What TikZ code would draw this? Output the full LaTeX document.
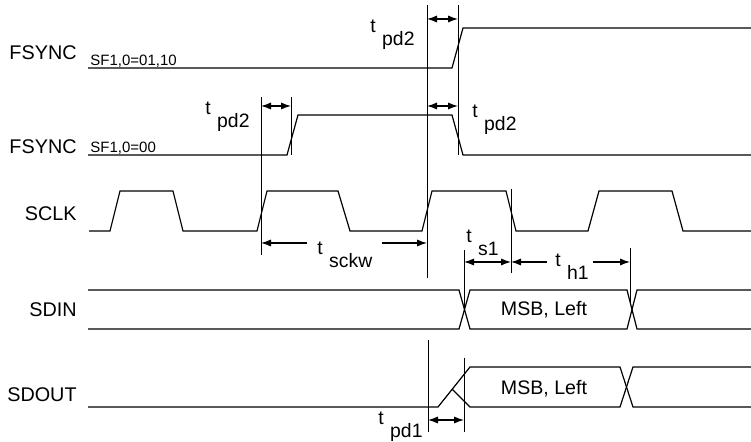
\documentclass[tikz,border=0pt]{standalone}
\usepackage{fontspec}
\setmainfont{Liberation Sans}
\usepackage{tikz}
\usetikzlibrary{arrows.meta}

\newcommand{\tlab}[1]{t\hspace{3.2pt}\raisebox{-6.5pt}{#1}}

\begin{document}
\begin{tikzpicture}[x=0.5pt,y=-0.5pt,>={Latex[length=5pt,width=3.6pt]}]
  \tikzset{
    wave/.style={line width=0.6pt},
    guide/.style={line width=0.5pt},
    dim/.style={<->,line width=0.6pt},
    signame/.style={anchor=east,inner sep=0pt,font=\fontsize{9.9}{11}\selectfont},
    cfg/.style={anchor=base west,inner sep=0pt,font=\fontsize{7.5}{9}\selectfont},
    tname/.style={anchor=base west,inner sep=0pt,font=\fontsize{9.7}{11}\selectfont},
    bus/.style={inner sep=0pt,font=\fontsize{9.8}{11}\selectfont}
  }
  \useasboundingbox (0,0) rectangle (751,442);
  % signal names
  \node[signame] (fs1) at (77,53) {FSYNC};
  \node[cfg] (sf1) at (90,66) {SF1,0=01,10};
  \node[signame] (fs2) at (77,147) {FSYNC};
  \node[cfg] (sf2) at (90,153) {SF1,0=00};
  \node[signame] (sclk) at (77,214) {SCLK};
  \node[signame] (sdin) at (77,310) {SDIN};
  \node[signame] (sdout) at (77,395) {SDOUT};
  % waveforms
  \draw[wave] (88,68) -- (452,68) -- (463,28) -- (751,28);
  \draw[wave] (88,155) -- (287,155) -- (298,115) -- (452,115) -- (463,155) -- (751,155);
  \draw[wave] (89,231) -- (110,231) -- (120,191) -- (173,191) -- (183,231) -- (257,231) -- (267,191) -- (338,191)
    -- (350,231) -- (422,231) -- (432,191) -- (506,191) -- (516,231) -- (588,231) -- (599,191) -- (672,191)
    -- (683,231) -- (751,231);
  \draw[wave] (88,290) -- (459,290) -- (470,329) -- (627,329) -- (637,290) -- (751,290);
  \draw[wave] (88,329) -- (459,329) -- (470,290) -- (627,290) -- (637,329) -- (751,329);
  \draw[wave] (88,407) -- (438,407) -- (470,367) -- (620,367) -- (633,407) -- (751,407);
  \draw[wave] (452,389) -- (470,407) -- (620,407) -- (633,367) -- (751,367);
  \node[bus] (dinword) at (544,310) {MSB, Left};
  \node[bus] (doutword) at (544,389) {MSB, Left};
  % reference lines
  \coordinate (sckA) at (261,97);
  \coordinate (fsB) at (291,97);
  \coordinate (pdA) at (427,5);
  \coordinate (pdB) at (458,5);
  \coordinate (sclkF) at (511,189);
  \coordinate (dinA) at (464,250);
  \coordinate (dinB) at (630,248);
  \coordinate (doA) at (428,340);
  \coordinate (doB) at (464,358);
  \draw[guide] (sckA) -- (261,255);
  \draw[guide] (fsB) -- (291,155);
  \draw[guide] (pdA) -- (427,278);
  \draw[guide] (pdB) -- (458,155);
  \draw[guide] (sclkF) -- (511,273);
  \draw[guide] (dinA) -- (464,312);
  \draw[guide] (dinB) -- (630,302);
  \draw[guide] (doA) -- (428,432);
  \draw[guide] (doB) -- (464,432);
  % timing arrows
  \draw[dim] (427,19) -- (458,19);
  \draw[dim] (261,106) -- (291,106);
  \draw[dim] (427,106) -- (458,106);
  \coordinate (sckwL) at (307,243);
  \coordinate (sckwR) at (382,243);
  \draw[->,line width=0.6pt] (sckwL) -- (261,243);
  \draw[->,line width=0.6pt] (sckwR) -- (427,243);
  \draw[dim] (464,262) -- (511,262);
  \coordinate (h1L) at (547,262);
  \coordinate (h1R) at (593,262);
  \draw[->,line width=0.6pt] (h1L) -- (511,262);
  \draw[->,line width=0.6pt] (h1R) -- (630,262);
  \draw[dim] (428,420) -- (464,420);
  % timing names
  \node[tname] (tpdtop) at (370,33) {\tlab{pd2}};
  \node[tname] (tpdleft) at (205,115) {\tlab{pd2}};
  \node[tname] (tpdright) at (472,118) {\tlab{pd2}};
  \node[tname] (tsckw) at (317,255) {\tlab{sckw}};
  \node[tname] (ts1) at (466,243) {\tlab{s1}};
  \node[tname] (th1) at (555,267) {\tlab{h1}};
  \node[tname] (tpd1) at (378,425) {\tlab{pd1}};
\end{tikzpicture}
\end{document}
